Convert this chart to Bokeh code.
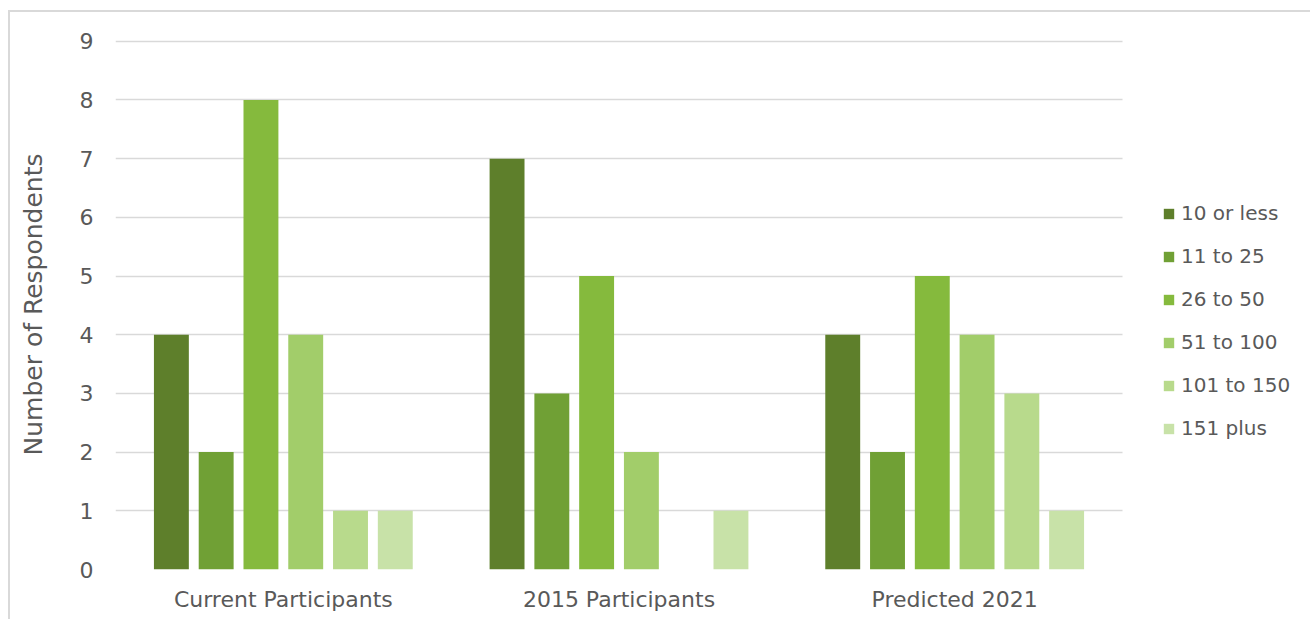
from bokeh.plotting import figure
from bokeh.models import ColumnDataSource, Legend, LegendItem, FixedTicker, Range1d
from bokeh.transform import dodge
from bokeh.embed import file_html
from bokeh.resources import INLINE

categories = ["Current Participants", "2015 Participants", "Predicted 2021"]
series = ["10 or less", "11 to 25", "26 to 50", "51 to 100", "101 to 150", "151 plus"]
values_10_or_less = [4, 7, 4]
values_11_to_25 = [2, 3, 2]
values_26_to_50 = [8, 5, 5]
values_51_to_100 = [4, 2, 4]
values_101_to_150 = [1, 0, 3]
values_151_plus = [1, 1, 1]
colors = ["#5e7f2b", "#70a035", "#85ba3d", "#a2cd6a", "#b8da8c", "#c8e2a8"]
y_ticks = [0, 1, 2, 3, 4, 5, 6, 7, 8, 9]

all_values = [values_10_or_less, values_11_to_25, values_26_to_50,
              values_51_to_100, values_101_to_150, values_151_plus]

cat_pos = [i + 0.5 for i in range(len(categories))]
data = {"pos": cat_pos}
keys = []
for i, v in enumerate(all_values):
    k = "s%d" % i
    keys.append(k)
    data[k] = v
source = ColumnDataSource(data)

FONT = "DejaVu Sans"
TXT = "#595959"

W, H = 1302, 609
BL, BR, BT, BB = 105, 0, 27, 52
unit_px = 335.67
x_end = (W - BL - BR) / unit_px

p = figure(x_range=Range1d(0, x_end), y_range=Range1d(0, 9.03),
           width=W, height=H, output_backend="svg", toolbar_location=None,
           min_border_left=BL, min_border_right=BR, min_border_top=BT, min_border_bottom=BB)
p.styles = {"margin-left": "8px", "margin-top": "10px",
            "border-top": "2px solid #d9d9d9", "border-left": "2px solid #d9d9d9"}
p.outline_line_color = None
p.background_fill_color = "white"

step = 0.1334
width = 0.104
renderers = []
for i, k in enumerate(keys):
    off = (i - 2.5) * step
    r = p.vbar(x=dodge("pos", off), top=k, width=width, source=source,
               fill_color=colors[i], line_color=None)
    renderers.append(r)

p.xgrid.grid_line_color = None
p.ygrid.grid_line_color = "#d9d9d9"
p.ygrid.grid_line_width = 1.5
p.ygrid.cross_bounds = (0, len(categories))
p.yaxis.ticker = FixedTicker(ticks=y_ticks)
p.xaxis.ticker = FixedTicker(ticks=cat_pos)
p.xaxis.major_label_overrides = {pos: c for pos, c in zip(cat_pos, categories)}

for ax in (p.xaxis[0], p.yaxis[0]):
    ax.axis_line_color = None
    ax.major_tick_line_color = None
    ax.minor_tick_line_color = None
    ax.major_label_text_font = FONT
    ax.major_label_text_color = TXT

p.xaxis.major_label_text_font_size = "22px"
p.yaxis.major_label_text_font_size = "22px"
p.xaxis.major_label_standoff = 11
p.yaxis.major_label_standoff = 16
p.yaxis.axis_label = "Number of Respondents"
p.yaxis.axis_label_text_font = FONT
p.yaxis.axis_label_text_font_style = "normal"
p.yaxis.axis_label_text_color = TXT
p.yaxis.axis_label_text_font_size = "25px"
p.yaxis.axis_label_standoff = 29

items = [LegendItem(label=s, renderers=[r]) for s, r in zip(series, renderers)]
legend = Legend(items=items, location=(1047, 129), orientation="vertical",
                glyph_width=13, glyph_height=13, label_standoff=6,
                label_height=20, spacing=19, padding=0, margin=0,
                border_line_color=None, background_fill_alpha=0,
                label_text_font=FONT, label_text_color=TXT, label_text_font_size="20px")
p.add_layout(legend, "center")

open("out.html", "w").write(file_html(p, INLINE))
